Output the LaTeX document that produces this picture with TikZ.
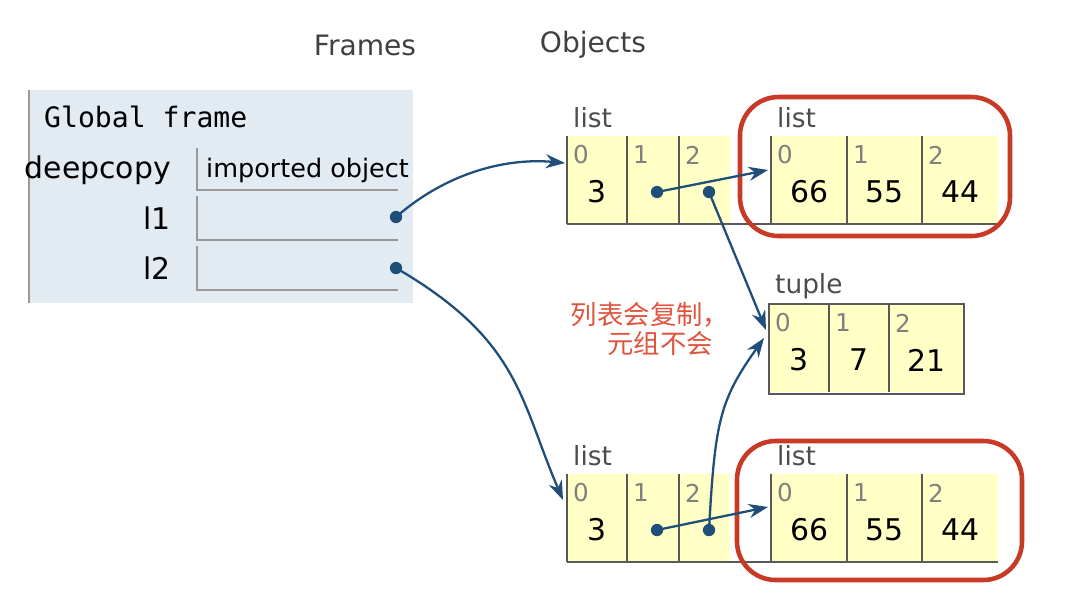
\documentclass[tikz,border=0pt]{standalone}
\usepackage{fontspec}
\setmainfont{DejaVu Sans}
\newfontfamily\monofont{DejaVu Sans Mono}
\newfontfamily\cjk{Noto Sans CJK SC}
\usetikzlibrary{arrows.meta}
\definecolor{framebg}{HTML}{E2EAF2}
\definecolor{cellbg}{HTML}{FFFFC6}
\definecolor{ptr}{HTML}{1F4E79}
\definecolor{hl}{HTML}{C63A26}
\definecolor{note}{HTML}{E0533D}
\tikzset{
  lbl/.style={anchor=west,font=\fontsize{15}{15}\selectfont,text=black!70},
  idx/.style={anchor=west,font=\fontsize{14}{14}\selectfont,text=black!50},
  val/.style={font=\fontsize{17}{17}\selectfont},
  ref/.style={ptr,line width=1.3pt,-{Stealth[length=11pt,width=8pt]}},
  dot/.style={circle,fill=ptr,inner sep=0pt,minimum size=7pt},
  box/.style={hl,line width=2.6pt,rounded corners=22pt},
}
% one list/tuple: #1 name, #2 x, #3 y, #4 label, #5 cell right edges, #6 values
\newcommand{\heapobj}[6]{
  \node[lbl] (#1-lbl) at (#2,#3-18) {#4};
  \foreach \r/\v [count=\i from 0, remember=\r as \l (initially #2)] in {#5}{
    \fill[cellbg] (\l,#3) rectangle (\r,#3+88);
    \draw[black!65,line width=1pt] (\l,#3) -- (\l,#3+88);
    \node[idx] at (\l,#3+19) {\i};
    \coordinate (#1-\i) at ({(\l+\r)/2},#3+56);
  }
}
\begin{document}
\begin{tikzpicture}[x=0.02cm,y=-0.02cm]
\useasboundingbox (0,0) rectangle (1074,592);
% headers
\node[font=\fontsize{16}{16}\selectfont,text=black!75] (frames) at (365,45) {Frames};
\node[font=\fontsize{16}{16}\selectfont,text=black!75] (objects) at (593,45) {Objects};
% global frame
\fill[framebg] (28,90) rectangle (413,303);
\draw[black!40,line width=1.5pt] (29,90) -- (29,303);
\node[anchor=west,font=\monofont\fontsize{16}{16}\selectfont] (gf) at (38,117) {Global frame};
\node[anchor=east,font=\fontsize{17}{17}\selectfont] (v0) at (177,170) {deepcopy};
\node[anchor=east,font=\fontsize{17}{17}\selectfont] (v1) at (177,218) {l1};
\node[anchor=east,font=\fontsize{17}{17}\selectfont] (v2) at (177,268) {l2};
\foreach \t/\b in {148/190,196/240,246/290}
  \draw[black!40,line width=1.2pt] (197,\t) -- (197,\b) -- (398,\b);
\node[anchor=west,font=\fontsize{14.5}{14.5}\selectfont] (imp) at (200,170) {imported object};
\node[dot] (p1) at (396,217) {};
\node[dot] (p2) at (396,268) {};
% heap objects
\heapobj{a}{567}{136}{list}{627,679,730}{}
\heapobj{b}{771}{136}{list}{847,922,998}{}
\heapobj{t}{769}{304}{tuple}{829,889,964}{}
\heapobj{c}{567}{474}{list}{627,679,730}{}
\heapobj{d}{771}{474}{list}{847,922,998}{}
\foreach \o/\y/\x in {a/136/730,b/136/998,c/474/730,d/474/998}
  \draw[black!65,line width=1pt] (\o-0 |- 0,\y+88) ++(-30,0) -| (\x,\y+88);
\foreach \o/\y/\x in {a/136/567,b/136/771,c/474/567,d/474/771}
  \draw[black!65,line width=1pt] (\x,\y+88) -- (\ifx\o a730\else\ifx\o c730\else998\fi\fi,\y+88);
\draw[black!65,line width=1pt] (769,304) rectangle (964,394);
\node[val] at (a-0) {3};
\node[val] at (c-0) {3};
\foreach \o in {b,d}{
  \node[val] at (\o-0) {66};
  \node[val] at (\o-1) {55};
  \node[val] at (\o-2) {44};
}
\node[val] at (t-0) {3};
\node[val] at (t-1) {7};
\node[val] at (t-2) {21};
% highlight boxes
\draw[box] (740,97) rectangle (1010,236);
\draw[box] (737,441) rectangle (1022,580);
% note
\node[text=note,font=\cjk\fontsize{15}{15}\selectfont] (n1) at (650,315) {列表会复制，};
\node[text=note,font=\cjk\fontsize{15}{15}\selectfont] (n2) at (660,343) {元组不会};
% pointers
\node[dot] (a1) at (657,192) {};
\node[dot] (a2) at (709,192) {};
\node[dot] (c1) at (657,530) {};
\node[dot] (c2) at (709,530) {};
\coordinate (a-in) at (565,163);
\coordinate (b-in) at (768,170);
\coordinate (t-in1) at (766,330);
\coordinate (t-in2) at (764,338);
\coordinate (c-in) at (563,500);
\coordinate (d-in) at (768,507);
\draw[ref] (p1.center) .. controls (450,170) and (510,158) .. (a-in);
\draw[ref] (p2.center) .. controls (520,340) and (520,400) .. (c-in);
\draw[ref] (a1.center) -- (b-in);
\draw[ref] (a2.center) -- (t-in1);
\draw[ref] (c1.center) -- (d-in);
\draw[ref] (c2.center) .. controls (715,420) and (720,400) .. (t-in2);
\end{tikzpicture}
\end{document}
